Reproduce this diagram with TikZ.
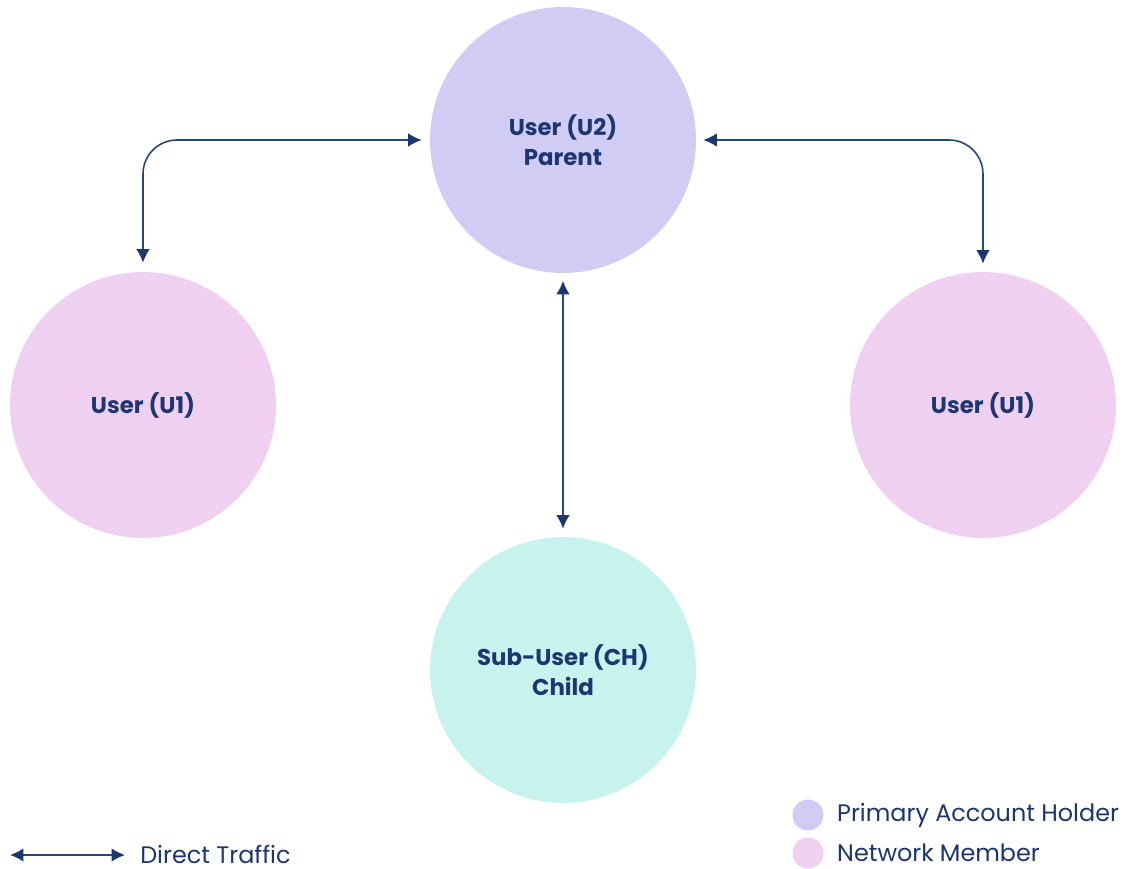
\documentclass[tikz,border=0pt]{standalone}
\usepackage{fontspec}
\setmainfont{Poppins}
\usepackage{tikz}
\usetikzlibrary{arrows.meta}
\definecolor{navy}{HTML}{1B3670}
\definecolor{linkblue}{HTML}{27457F}
\definecolor{parentfill}{HTML}{D1CCF3}
\definecolor{memberfill}{HTML}{F0D0F0}
\definecolor{childfill}{HTML}{C8F2EE}

\begin{document}
\begin{tikzpicture}[x=0.02cm,y=-0.02cm,
  user/.style={circle,minimum size=5.32cm,inner sep=0pt,align=center,
    text=navy,font=\fontsize{13}{17}\selectfont\bfseries},
  link/.style={line width=0.9pt,draw=linkblue,{Latex[length=2.7mm,width=2.7mm,navy]}-{Latex[length=2.7mm,width=2.7mm,navy]}},
  dot/.style={circle,minimum size=0.62cm,inner sep=0pt},
  legend/.style={anchor=west,inner sep=0pt,text=navy,font=\fontsize{13.6}{16}\selectfont}]
\useasboundingbox (0,0) rectangle (1127,869);
% circles
\node[user,fill=parentfill] (parent) at (563,140) {User (U2)\\Parent};
\node[user,fill=memberfill] (uleft) at (143,405) {User (U1)};
\node[user,fill=memberfill] (uright) at (983,405) {User (U1)};
\node[user,fill=childfill] (child) at (563,670) {Sub-User (CH)\\Child};
% connectors
\draw[link,rounded corners=0.68cm,shorten <=0.16cm,shorten >=0.18cm] (parent.west) -| (uleft.north);
\draw[link,rounded corners=0.68cm,shorten <=0.14cm,shorten >=0.16cm] (parent.east) -| (uright.north);
\draw[link,shorten <=0.15cm,shorten >=0.16cm] (parent.south) to (child.north);
% legend
\coordinate (la) at (10,855);
\coordinate (lb) at (125,855);
\draw[link] (la) to (lb);
\node[legend] (ltraffic) at (140,854) {Direct Traffic};
\node[dot,fill=parentfill] (dparent) at (808,815) {};
\node[dot,fill=memberfill] (dmember) at (808,853) {};
\node[legend] (lparent) at (dparent.east) [xshift=0.26cm] {Primary Account Holder};
\node[legend] (lmember) at (dmember.east) [xshift=0.26cm] {Network Member};
\end{tikzpicture}
\end{document}
